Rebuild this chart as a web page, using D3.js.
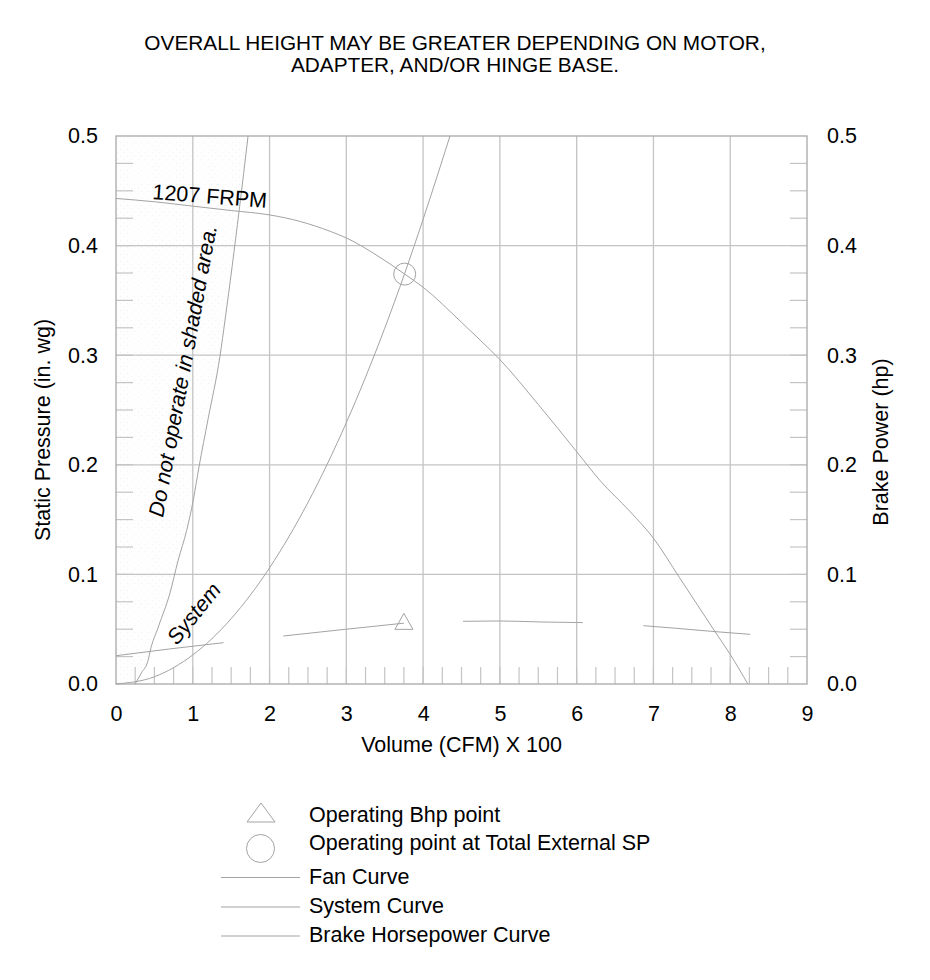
<!DOCTYPE html>
<html><head><meta charset="utf-8">
<script src="https://cdn.jsdelivr.net/npm/d3@7"></script>
<style>
html,body{margin:0;padding:0;background:#fff;}
svg text{font-family:"Liberation Sans",Arial,sans-serif;fill:#000;}
</style></head>
<body>
<svg id="chart" width="930" height="980"></svg>
<script>
// ---- data ----
const titleLines = ["OVERALL HEIGHT MAY BE GREATER DEPENDING ON MOTOR,", "ADAPTER, AND/OR HINGE BASE."];
const xTicks = [0,1,2,3,4,5,6,7,8,9];
const yTicks = [0.0,0.1,0.2,0.3,0.4,0.5];
const fanX = [0,0.5,1,1.5,2,2.4,2.79,3.0,3.4,3.76,4.0,4.5,4.74,5.0,5.5,6.0,6.3,6.7,7.0,7.34,7.8,8.0,8.23];
const fanY = [0.443,0.440,0.436,0.432,0.428,0.422,0.413,0.407,0.391,0.374,0.362,0.330,0.314,0.296,0.255,0.212,0.186,0.157,0.133,0.097,0.048,0.027,0.0];
const systemX = [0,0.5,1,1.5,2,2.5,3,3.5,3.76,4,4.35];
const systemY = [0,0.0066,0.0265,0.0596,0.106,0.1656,0.2385,0.3246,0.3746,0.424,0.5];
const stallX = [0.25,0.33,0.42,0.443,0.551,0.703,0.81,0.92,1.007,1.081,1.2,1.354,1.42,1.605,1.72];
const stallY = [0.0,0.010,0.022,0.0295,0.052,0.083,0.113,0.140,0.168,0.198,0.242,0.299,0.332,0.4325,0.5];
const bhpSegX = [[0,0.7,1.40],[2.18,3.0,3.75],[4.52,5.0,5.52,6.08],[6.87,7.3,7.8,8.26]];
const bhpSegY = [[0.0258,0.032,0.0377],[0.0438,0.050,0.0555],[0.0572,0.0575,0.0566,0.0560],[0.0532,0.0508,0.0478,0.0453]];
const bhpPoint = [3.75, 0.0557];
const opPoint = [3.76, 0.374];
const legendLabels = ["Operating Bhp point","Operating point at Total External SP","Fan Curve","System Curve","Brake Horsepower Curve"];

// ---- layout ----
const L=116, R=807, T=136, B=684;
const svg = d3.select("#chart");
const x = d3.scaleLinear().domain([0,9]).range([L,R]);
const y = d3.scaleLinear().domain([0,0.5]).range([B,T]);
const curveCol = "#a3a3a3", gridCol = "#c4c4c4", frameCol = "#a8a8a8";
const FONT = "Liberation Sans, Arial, sans-serif";

// shading pattern (very faint speckle)
const defs = svg.append("defs");
const pat = defs.append("pattern").attr("id","dots").attr("patternUnits","userSpaceOnUse").attr("width",7).attr("height",7);
pat.append("rect").attr("width",7).attr("height",7).attr("fill","#fefefe");
pat.append("rect").attr("x",1).attr("y",2).attr("width",1).attr("height",1).attr("fill","#f1f1f1");
pat.append("rect").attr("x",5).attr("y",5).attr("width",1).attr("height",1).attr("fill","#f4f4f4");

// title
svg.selectAll(".title").data(titleLines).join("text").attr("class","title")
  .attr("x",455).attr("y",(d,i)=>50+i*21.5).attr("text-anchor","middle")
  .attr("font-size",20.8).text(d=>d);

// shaded area
const stallPts = stallX.map((v,i)=>[v,stallY[i]]);
const shadePts = [[0,0]].concat(stallPts).concat([[0,0.5]]);
svg.append("path")
  .attr("d", d3.line().x(d=>x(d[0])).y(d=>y(d[1]))(shadePts)+"Z")
  .attr("fill","url(#dots)");

// grid
svg.append("g").selectAll("line").data(xTicks.filter(v=>v>0&&v<9)).join("line")
  .attr("x1",d=>x(d)).attr("x2",d=>x(d)).attr("y1",T).attr("y2",B)
  .attr("stroke",gridCol).attr("stroke-width",1.3);
svg.append("g").selectAll("line").data(yTicks.filter(v=>v>0&&v<0.5)).join("line")
  .attr("x1",L).attr("x2",R).attr("y1",d=>y(d)).attr("y2",d=>y(d))
  .attr("stroke",gridCol).attr("stroke-width",1.3);

// minor ticks
const yMinor = d3.range(1,20).map(i=>i*0.025);
const xMinor = d3.range(1,36).map(i=>i*0.25);
const tk = svg.append("g").attr("stroke",gridCol).attr("stroke-width",1.2);
tk.selectAll(".ml").data(yMinor).join("line").attr("class","ml")
  .attr("x1",L).attr("x2",L+17).attr("y1",d=>y(d)).attr("y2",d=>y(d));
tk.selectAll(".mr").data(yMinor).join("line").attr("class","mr")
  .attr("x1",R-17).attr("x2",R).attr("y1",d=>y(d)).attr("y2",d=>y(d));
tk.selectAll(".mb").data(xMinor).join("line").attr("class","mb")
  .attr("x1",d=>x(d)).attr("x2",d=>x(d)).attr("y1",B).attr("y2",B-17);

// frame
svg.append("rect").attr("x",L).attr("y",T).attr("width",R-L).attr("height",B-T)
  .attr("fill","none").attr("stroke",frameCol).attr("stroke-width",1.3);

// tick labels via d3 axes (no domain/tick lines)
const fmt = d3.format(".1f");
const axL = svg.append("g").attr("transform",`translate(${L-18},0)`)
  .call(d3.axisLeft(y).tickValues(yTicks).tickFormat(fmt).tickSize(0).tickPadding(0));
const axR = svg.append("g").attr("transform",`translate(${R+20},0)`)
  .call(d3.axisRight(y).tickValues(yTicks).tickFormat(fmt).tickSize(0).tickPadding(0));
const axB = svg.append("g").attr("transform",`translate(0,${B+10})`)
  .call(d3.axisBottom(x).tickValues(xTicks).tickFormat(d3.format("d")).tickSize(0).tickPadding(0));
[axL,axR,axB].forEach(a=>{a.select(".domain").remove();a.selectAll("text").attr("font-size",21.5).attr("font-family",FONT).attr("fill","#000");});
axB.selectAll("text").attr("dy","1.26em");

svg.append("text").attr("transform",`translate(50,430) rotate(-90)`)
  .attr("text-anchor","middle").attr("font-size",21.5).text("Static Pressure (in. wg)");
svg.append("text").attr("transform",`translate(888,442) rotate(-90)`)
  .attr("text-anchor","middle").attr("font-size",21.5).text("Brake Power (hp)");
svg.append("text").attr("x",(L+R)/2).attr("y",752).attr("text-anchor","middle")
  .attr("font-size",21.5).text("Volume (CFM) X 100");

// curves
const smooth = d3.line().x(d=>x(d[0])).y(d=>y(d[1])).curve(d3.curveMonotoneX);
const styleCurve = p => p.attr("fill","none").attr("stroke",curveCol).attr("stroke-width",1);
svg.append("path").attr("d",smooth(stallPts)).call(styleCurve);
svg.append("path").attr("d",smooth(fanX.map((v,i)=>[v,fanY[i]]))).call(styleCurve);
svg.append("path").attr("d",smooth(systemX.map((v,i)=>[v,systemY[i]]))).call(styleCurve);
bhpSegX.forEach((xs,j)=>{
  svg.append("path").attr("d",smooth(xs.map((v,i)=>[v,bhpSegY[j][i]]))).call(styleCurve);
});

// markers
const tri = (cx,cy,w,h)=>`M${cx},${cy-h*0.6}L${cx+w/2},${cy+h*0.4}L${cx-w/2},${cy+h*0.4}Z`;
svg.append("path").attr("d",tri(x(bhpPoint[0]),y(bhpPoint[1]),18,16)).call(styleCurve);
svg.append("circle").attr("cx",x(opPoint[0])).attr("cy",y(opPoint[1])).attr("r",11).call(styleCurve);

// annotations
svg.append("text").attr("transform",`translate(152,199) rotate(4.4)`).attr("font-size",21.5).text("1207 FRPM");
svg.append("text").attr("transform",`translate(163,518) rotate(-79.5)`).attr("font-size",21.5).attr("font-style","italic").text("Do not operate in shaded area.");
svg.append("text").attr("transform",`translate(177,646) rotate(-51)`).attr("font-size",21.5).attr("font-style","italic").text("System");

// legend
const lg = svg.append("g");
lg.append("path").attr("d",`M261,803L275,822L247,822Z`).call(styleCurve);
lg.append("circle").attr("cx",260.5).attr("cy",848.5).attr("r",14).call(styleCurve);
[877.5,907,936].forEach(yy=>{
  lg.append("line").attr("x1",221).attr("x2",300).attr("y1",yy).attr("y2",yy).attr("stroke",curveCol).attr("stroke-width",1);
});
const lgY = [821.5,850,884,912.5,941.5];
lg.selectAll("text").data(legendLabels).join("text")
  .attr("x",309).attr("y",(d,i)=>lgY[i]).attr("font-size",21.5).text(d=>d);
</script>
</body></html>
